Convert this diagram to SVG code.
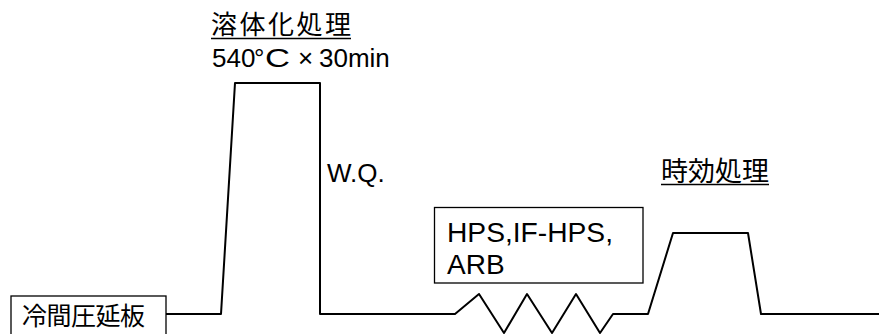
<svg xmlns="http://www.w3.org/2000/svg" width="879" height="334" viewBox="0 0 879 334">
<style>
.ln{fill:none;stroke:#000;stroke-width:2;stroke-linejoin:round}
.bx{fill:#fff;stroke:#000;stroke-width:1.3}
.jp{font-family:"Noto Sans CJK JP","Noto Sans CJK SC",sans-serif;fill:#000}
.en{font-family:"Liberation Sans",Arial,sans-serif;fill:#000}
.ul{stroke:#000;stroke-width:1.3}
</style>
<rect width="879" height="334" fill="#fff"/>
<g id="connectors">
<polyline class="ln" points="166,314 221,314 235,83 320,83 320,314 455,314 479,294 504,333 527,294 552,333 576,294 600,333 613,314 648,314 673,233 748,233 761,314 879,314"/>
</g>
<g id="cold-rolled">
<rect class="bx" x="11" y="296" width="155" height="50"/>
<text class="jp" x="22" y="325" font-size="25" textLength="123" lengthAdjust="spacing">冷間圧延板</text>
</g>
<g id="solution">
<text class="jp" x="211" y="34" font-size="26" textLength="140" lengthAdjust="spacing">溶体化処理</text>
<line class="ul" x1="211" y1="38.5" x2="351" y2="38.5"/>
<text class="en" x="212" y="67" font-size="26">540</text>
<text class="en" x="254" y="67" font-size="26">°</text>
<text class="en" x="265" y="67" font-size="26" textLength="25" lengthAdjust="spacingAndGlyphs">C</text>
<text class="en" x="298" y="67" font-size="26">×</text>
<text class="en" x="319" y="67" font-size="26">30min</text>
</g>
<g id="wq">
<text class="en" x="327" y="182" font-size="26">W.Q.</text>
</g>
<g id="hps">
<rect class="bx" x="434.5" y="207.5" width="208.5" height="75.5"/>
<text class="en" x="447" y="242" font-size="28" textLength="166" lengthAdjust="spacingAndGlyphs">HPS,IF-HPS,</text>
<text class="en" x="447" y="274" font-size="28">ARB</text>
</g>
<g id="aging">
<text class="jp" x="661" y="181" font-size="27" textLength="108" lengthAdjust="spacing">時効処理</text>
<line class="ul" x1="661" y1="184.5" x2="769" y2="184.5"/>
</g>
</svg>
